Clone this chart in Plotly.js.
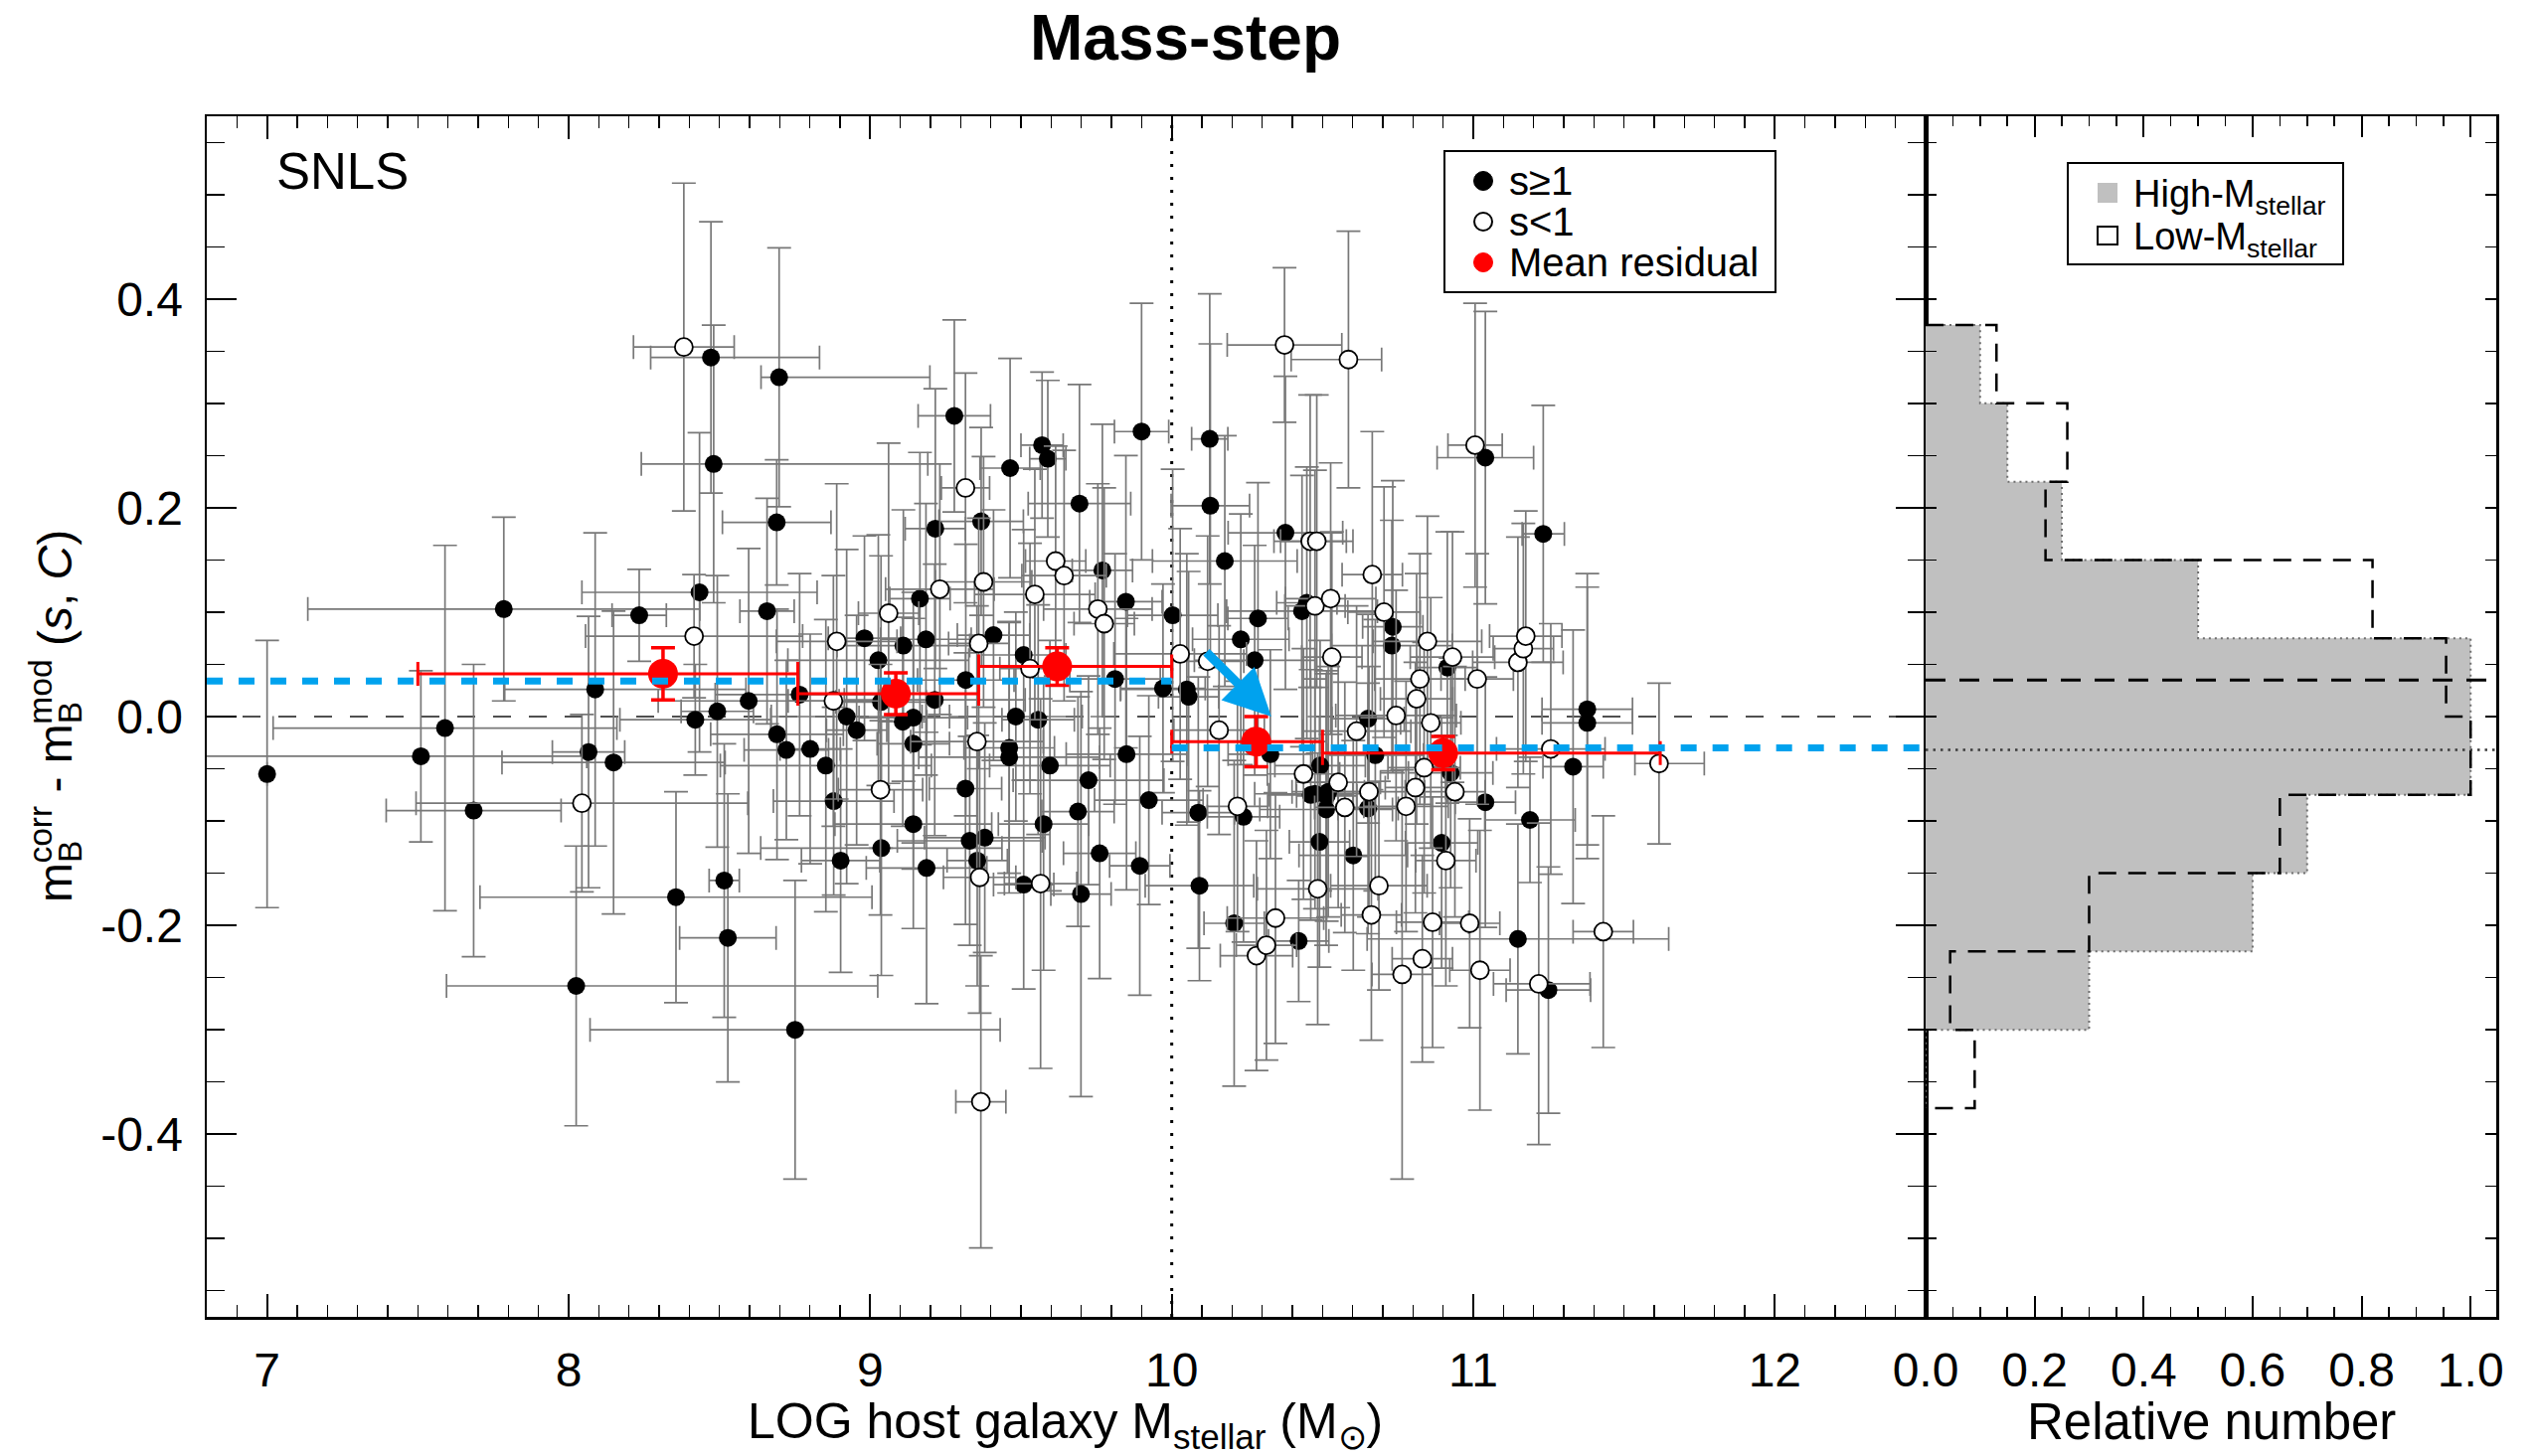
<!DOCTYPE html>
<html><head><meta charset="utf-8">
<script src="https://cdn.plot.ly/plotly-3.0.1.min.js"></script>
<style>html,body{margin:0;padding:0;background:#fff}#chart{width:2552px;height:1465px}</style>
</head><body><div id="chart"></div>
<script>
// ---------------- DATA ----------------
// SNe with stretch s >= 1 (filled)
const sHighX = [7.000,7.510,7.590,7.685,7.785,8.025,8.066,8.088,8.149,8.234,
 8.356,8.420,8.434,8.472,8.481,8.493,8.516,8.528,8.597,8.658,
 8.690,8.691,8.698,8.722,8.751,8.766,8.801,8.853,8.879,8.902,
 8.922,8.955,8.981,9.027,9.036,9.037,9.108,9.110,9.143,9.143,
 9.143,9.165,9.185,9.187,9.214,9.216,9.279,9.317,9.316,9.330,
 9.355,9.368,9.380,9.409,9.461,9.461,9.464,9.483,9.509,9.509,
 9.557,9.570,9.575,9.589,9.596,9.689,9.694,9.699,9.724,9.761,
 9.770,9.812,9.848,9.850,9.894,9.900,9.924,9.971,10.003,10.050,
 10.056,10.088,10.092,10.126,10.128,10.176,10.207,10.229,10.238,10.275,
 10.286,10.327,10.377,10.421,10.432,10.448,10.461,10.475,10.490,10.492,
 10.512,10.514,10.519,10.602,10.651,10.651,10.675,10.730,10.733,10.895,
 10.914,10.925,11.040,11.040,11.148,11.188,11.232,11.249,11.331,11.378,
 11.378];
const sHighY = [-0.055,-0.038,-0.011,-0.090,0.103,-0.258,-0.034,0.026,-0.044,0.097,
 -0.173,-0.003,0.119,0.344,0.242,0.005,-0.157,-0.212,0.015,0.101,
 0.186,-0.017,0.325,-0.032,-0.300,0.021,-0.031,-0.047,-0.081,-0.138,
 0.000,-0.013,0.075,0.054,0.014,-0.126,-0.005,0.068,-0.001,-0.026,
 -0.103,0.113,0.074,-0.145,0.016,0.180,0.288,0.035,-0.069,-0.119,
 -0.138,0.187,-0.116,0.078,-0.030,-0.039,0.238,0.000,0.059,-0.161,
 -0.003,0.260,-0.103,0.247,-0.047,-0.091,0.204,-0.170,-0.061,-0.131,
 0.140,0.036,0.110,-0.036,-0.143,0.273,-0.080,0.027,0.097,0.026,
 0.019,-0.092,-0.162,0.266,0.202,0.149,-0.198,0.074,-0.096,0.054,
 0.094,-0.036,0.176,-0.215,0.101,0.109,-0.075,-0.074,-0.120,-0.047,
 -0.089,-0.076,-0.072,-0.133,-0.002,-0.088,-0.037,0.068,0.086,-0.121,
 0.047,-0.054,0.248,-0.082,-0.213,-0.099,0.175,-0.262,-0.048,0.007,
 -0.006];
const sHighErrY = [0.128,0.082,0.175,0.140,0.088,0.134,0.130,0.150,0.145,0.044,
 0.101,0.053,0.153,0.130,0.133,0.130,0.131,0.138,0.146,0.108,
 0.060,0.120,0.124,0.086,0.143,0.116,0.110,0.140,0.090,0.107,
 0.160,0.110,0.098,0.120,0.140,0.122,0.100,0.130,0.120,0.120,
 0.100,0.140,0.130,0.130,0.130,0.134,0.092,0.130,0.130,0.100,
 0.120,0.090,0.110,0.120,0.120,0.130,0.105,0.100,0.120,0.100,
 0.110,0.070,0.140,0.075,0.120,0.110,0.114,0.194,0.100,0.120,
 0.140,0.120,0.140,0.130,0.124,0.123,0.100,0.100,0.140,0.130,
 0.120,0.130,0.091,0.139,0.155,0.120,0.156,0.120,0.120,0.110,
 0.130,0.100,0.150,0.058,0.130,0.130,0.120,0.110,0.120,0.120,
 0.130,0.120,0.120,0.110,0.100,0.120,0.130,0.120,0.140,0.120,
 0.130,0.110,0.140,0.120,0.110,0.060,0.123,0.118,0.131,0.130,
 0.130];
const sHighErrXPlus = [0.00,0.55,0.57,0.29,0.65,1.00,0.12,0.50,0.37,0.09,
 0.65,0.25,0.39,0.36,0.71,0.12,0.05,0.16,0.30,0.09,
 0.18,0.22,0.50,0.14,0.68,0.28,0.10,0.35,0.20,0.13,
 0.25,0.10,0.12,0.30,0.15,0.40,0.08,0.22,0.18,0.12,
 0.26,0.10,0.15,0.20,0.30,0.10,0.12,0.16,0.12,0.24,
 0.10,0.14,0.20,0.12,0.15,0.30,0.10,0.22,0.14,0.10,
 0.12,0.07,0.15,0.06,0.20,0.12,0.17,0.10,0.25,0.12,
 0.10,0.15,0.12,0.20,0.10,0.09,0.18,0.14,0.15,0.22,
 0.10,0.12,0.18,0.06,0.13,0.24,0.10,0.16,0.12,0.20,
 0.10,0.14,0.19,0.10,0.25,0.10,0.14,0.20,0.10,0.15,
 0.22,0.10,0.12,0.18,0.12,0.10,0.16,0.20,0.10,0.12,
 0.10,0.14,0.16,0.10,0.50,0.15,0.07,0.14,0.10,0.15,
 0.15];
const sHighErrXMinus = [0.00,0.75,0.57,0.29,0.65,0.43,0.12,0.30,0.37,0.09,
 0.65,0.25,0.39,0.20,0.24,0.12,0.05,0.16,0.30,0.09,
 0.18,0.22,0.06,0.14,0.68,0.28,0.10,0.35,0.20,0.13,
 0.25,0.10,0.12,0.30,0.15,0.40,0.08,0.22,0.18,0.12,
 0.26,0.10,0.15,0.20,0.30,0.10,0.12,0.16,0.12,0.24,
 0.10,0.14,0.20,0.12,0.15,0.30,0.10,0.22,0.14,0.10,
 0.12,0.07,0.15,0.06,0.20,0.12,0.17,0.10,0.25,0.12,
 0.10,0.15,0.12,0.20,0.10,0.09,0.18,0.14,0.15,0.22,
 0.10,0.12,0.18,0.06,0.13,0.24,0.10,0.16,0.12,0.20,
 0.10,0.14,0.19,0.10,0.25,0.10,0.14,0.20,0.10,0.15,
 0.22,0.10,0.12,0.18,0.12,0.10,0.16,0.20,0.10,0.12,
 0.10,0.14,0.16,0.10,0.50,0.15,0.07,0.14,0.10,0.15,
 0.15];

// SNe with stretch s < 1 (open)
const sLowX = [8.044,8.382,8.416,8.878,8.889,9.034,9.061,9.231,9.316,9.354,
 9.360,9.363,9.367,9.376,9.530,9.546,9.565,9.615,9.643,9.755,
 9.776,10.028,10.119,10.157,10.218,10.281,10.314,10.344,10.374,10.437,
 10.459,10.481,10.484,10.475,10.527,10.531,10.552,10.574,10.586,10.613,
 10.654,10.662,10.665,10.687,10.704,10.744,10.764,10.777,10.808,10.812,
 10.823,10.831,10.837,10.848,10.859,10.865,10.909,10.931,10.939,10.988,
 11.006,11.013,11.022,11.148,11.166,11.174,11.217,11.257,11.431,11.616];
const sLowY = [-0.083,0.354,0.077,0.015,0.072,-0.070,0.099,0.122,0.219,-0.024,
 0.070,-0.154,-0.369,0.129,0.046,0.117,-0.160,0.149,0.135,0.103,
 0.089,0.060,0.053,-0.013,-0.086,-0.229,-0.219,-0.193,0.356,-0.055,
 0.168,0.168,-0.165,0.106,0.113,0.057,-0.063,-0.087,0.342,-0.014,
 -0.072,-0.190,0.136,-0.162,0.100,0.001,-0.247,-0.086,-0.068,0.017,
 0.036,-0.232,-0.049,0.072,-0.006,-0.197,-0.138,0.057,-0.072,-0.198,
 0.260,0.036,-0.243,0.052,0.065,0.077,-0.256,-0.031,-0.206,-0.045];
const sLowErrY = [0.085,0.157,0.059,0.120,0.151,0.120,0.163,0.120,0.110,0.130,
 0.120,0.130,0.140,0.120,0.120,0.120,0.177,0.110,0.120,0.120,
 0.130,0.120,0.120,0.100,0.120,0.110,0.110,0.120,0.074,0.120,
 0.140,0.140,0.130,0.130,0.130,0.120,0.120,0.120,0.123,0.120,
 0.120,0.120,0.137,0.100,0.120,0.120,0.196,0.120,0.120,0.120,
 0.120,0.099,0.120,0.120,0.120,0.120,0.120,0.120,0.120,0.100,
 0.136,0.120,0.134,0.120,0.120,0.120,0.154,0.120,0.111,0.077];
const sLowErrXPlus = [0.55,0.167,0.36,0.15,0.20,0.14,0.10,0.18,0.08,0.22,
 0.10,0.12,0.083,0.16,0.10,0.20,0.12,0.10,0.14,0.18,
 0.10,0.22,0.12,0.15,0.10,0.12,0.10,0.16,0.19,0.12,
 0.12,0.12,0.20,0.10,0.15,0.10,0.14,0.10,0.11,0.18,
 0.12,0.10,0.10,0.16,0.12,0.20,0.10,0.14,0.10,0.12,
 0.15,0.10,0.12,0.18,0.10,0.12,0.10,0.14,0.10,0.10,
 0.09,0.12,0.10,0.15,0.10,0.12,0.17,0.18,0.10,0.15];
const sLowErrXMinus = [0.55,0.167,0.36,0.15,0.20,0.14,0.10,0.18,0.08,0.22,
 0.10,0.12,0.083,0.16,0.10,0.20,0.12,0.10,0.14,0.18,
 0.10,0.22,0.12,0.15,0.10,0.12,0.10,0.16,0.19,0.12,
 0.12,0.12,0.20,0.10,0.15,0.10,0.14,0.10,0.19,0.18,
 0.12,0.10,0.10,0.16,0.12,0.20,0.10,0.14,0.10,0.12,
 0.15,0.10,0.12,0.18,0.10,0.12,0.10,0.14,0.10,0.10,
 0.09,0.12,0.10,0.15,0.10,0.12,0.15,0.18,0.10,0.08];

// Mean residual per mass bin
const meanX = [8.313, 9.085, 9.620, 10.280, 10.900];
const meanY = [0.041, 0.022, 0.048, -0.024, -0.035];
const meanErrY = [0.025, 0.020, 0.018, 0.024, 0.016];
const meanBinLo = [7.50, 8.76, 9.36, 10.00, 10.50];
const meanBinHi = [8.76, 9.36, 10.00, 10.50, 11.62];

// Mass-step split and mean residuals on each side
const massSplit = 10.0;
const lowMassMean = 0.034;
const highMassMean = -0.030;
const arrowTail = [10.11, 0.063];
const arrowTip = [10.33, 0.000];

// Histograms (right panel)
const histEdges = [0.375, 0.300, 0.225, 0.150, 0.075, 0.000, -0.075, -0.150, -0.225, -0.300, -0.375];
const histHighM = [0.10, 0.15, 0.25, 0.50, 1.00, 1.00, 0.70, 0.60, 0.30, 0.00];
const histLowM  = [0.13, 0.26, 0.22, 0.82, 0.955, 1.00, 0.65, 0.30, 0.045, 0.09];
const histMeanLow = 0.035;
const histMeanHigh = -0.032;

// Axes
const xRange = [6.8, 12.5];
const yRange = [-0.575, 0.575];
const x2Range = [0, 1.047];
const yTickVals = [-0.4, -0.2, 0.0, 0.2, 0.4];
const yTickText = ['-0.4', '-0.2', '0.0', '0.2', '0.4'];
const x2TickVals = [0, 0.2, 0.4, 0.6, 0.8, 1.0];
const x2TickText = ['0.0', '0.2', '0.4', '0.6', '0.8', '1.0'];

// ---------------- LAYOUT GEOMETRY ----------------
const W = 2552, H = 1465;
const L = 208, R = 1937, R2 = 2511, T = 117, B = 1325;
const px = v => v / W;
const py = v => 1 - v / H;
const FONT = 'Liberation Sans, Arial, Helvetica, sans-serif';
const BLUE = '#00A2EE';
const ERRC = 'rgb(120,120,120)';

function stepPath(edges, vals) {
  const xs = [0], ys = [edges[0]];
  for (let i = 0; i < vals.length; i++) {
    xs.push(vals[i], vals[i]);
    ys.push(edges[i], edges[i + 1]);
  }
  xs.push(0); ys.push(edges[edges.length - 1]);
  return {x: xs, y: ys};
}
const highPath = stepPath(histEdges, histHighM);
const lowPath = stepPath(histEdges, histLowM);

const traces = [];
traces.push({
  type: 'scatter', mode: 'markers', x: sHighX, y: sHighY, xaxis: 'x', yaxis: 'y',
  marker: {symbol: 'circle', size: 18, color: 'black', line: {width: 0}},
  error_x: {type: 'data', symmetric: false, array: sHighErrXPlus, arrayminus: sHighErrXMinus, color: ERRC, thickness: 1.7, width: 12},
  error_y: {type: 'data', array: sHighErrY, color: ERRC, thickness: 1.7, width: 12},
  showlegend: false, hoverinfo: 'skip'
});
traces.push({
  type: 'scatter', mode: 'markers', x: sLowX, y: sLowY, xaxis: 'x', yaxis: 'y',
  marker: {symbol: 'circle', size: 18, color: 'white', line: {width: 1.8, color: 'black'}},
  error_x: {type: 'data', symmetric: false, array: sLowErrXPlus, arrayminus: sLowErrXMinus, color: ERRC, thickness: 1.7, width: 12},
  error_y: {type: 'data', array: sLowErrY, color: ERRC, thickness: 1.7, width: 12},
  showlegend: false, hoverinfo: 'skip'
});
traces.push({
  type: 'scatter', mode: 'markers', x: meanX, y: meanY, xaxis: 'x', yaxis: 'y',
  marker: {symbol: 'circle', size: 30, color: 'red', line: {width: 0}},
  error_x: {type: 'data', symmetric: false,
    array: meanX.map((v, i) => meanBinHi[i] - v),
    arrayminus: meanX.map((v, i) => v - meanBinLo[i]),
    color: 'red', thickness: 3, width: 12},
  error_y: {type: 'data', array: meanErrY, color: 'red', thickness: 3.5, width: 12},
  showlegend: false, hoverinfo: 'skip'
});
traces.push({
  type: 'scatter', mode: 'lines', x: [xRange[0], massSplit], y: [lowMassMean, lowMassMean],
  xaxis: 'x', yaxis: 'y', line: {color: BLUE, width: 7, dash: '16px,16px'}, showlegend: false, hoverinfo: 'skip'
});
traces.push({
  type: 'scatter', mode: 'lines', x: [massSplit, xRange[1]], y: [highMassMean, highMassMean],
  xaxis: 'x', yaxis: 'y', line: {color: BLUE, width: 7, dash: '16px,16px'}, showlegend: false, hoverinfo: 'skip'
});
// histograms
traces.push({
  type: 'scatter', mode: 'lines', x: highPath.x, y: highPath.y, xaxis: 'x2', yaxis: 'y2',
  fill: 'toself', fillcolor: 'rgb(192,192,192)', line: {color: 'rgb(110,110,110)', width: 2, dash: '2px,4px'},
  showlegend: false, hoverinfo: 'skip'
});
traces.push({
  type: 'scatter', mode: 'lines', x: lowPath.x, y: lowPath.y, xaxis: 'x2', yaxis: 'y2',
  line: {color: 'black', width: 2.5, dash: '18px,12px'}, showlegend: false, hoverinfo: 'skip'
});
traces.push({
  type: 'scatter', mode: 'lines', x: [x2Range[0], x2Range[1]], y: [histMeanLow, histMeanLow], xaxis: 'x2', yaxis: 'y2',
  line: {color: 'black', width: 3, dash: '20px,14px'}, showlegend: false, hoverinfo: 'skip'
});
traces.push({
  type: 'scatter', mode: 'lines', x: [x2Range[0], x2Range[1]], y: [histMeanHigh, histMeanHigh], xaxis: 'x2', yaxis: 'y2',
  line: {color: 'rgb(60,60,60)', width: 2.5, dash: '2.5px,5px'}, showlegend: false, hoverinfo: 'skip'
});

const axCommon = {
  showline: true, linecolor: 'black', linewidth: 2.5, mirror: 'ticks',
  ticks: 'inside', tickcolor: 'black', showgrid: false, zeroline: false,
  tickfont: {family: FONT, size: 48, color: 'black'}
};
const yDom = [1 - B / H, 1 - T / H];

const layout = {
  width: W, height: H, autosize: false,
  margin: {l: 0, r: 0, t: 0, b: 0, pad: 0},
  paper_bgcolor: 'white', plot_bgcolor: 'white',
  showlegend: false,
  xaxis: Object.assign({}, axCommon, {
    domain: [px(L), px(R)], range: xRange, anchor: 'y',
    tickmode: 'linear', tick0: 0, dtick: 1, ticklen: 23, tickwidth: 2,
    minor: {dtick: 0.1, tick0: 0, ticklen: 12, tickwidth: 1.5, tickcolor: 'black', ticks: 'inside', showgrid: false},
    ticklabelstandoff: 10
  }),
  yaxis: Object.assign({}, axCommon, {
    domain: yDom, range: yRange, anchor: 'x',
    tickmode: 'array', tickvals: yTickVals, ticktext: yTickText, ticklen: 30, tickwidth: 2,
    minor: {dtick: 0.05, tick0: 0, ticklen: 18, tickwidth: 1.5, tickcolor: 'black', ticks: 'inside', showgrid: false},
    ticklabelstandoff: 12
  }),
  xaxis2: Object.assign({}, axCommon, {
    domain: [px(R), px(R2)], range: x2Range, anchor: 'y2',
    tickmode: 'array', tickvals: x2TickVals, ticktext: x2TickText, ticklen: 21, tickwidth: 2,
    minor: {dtick: 0.05, tick0: 0, ticklen: 10, tickwidth: 1.5, tickcolor: 'black', ticks: 'inside', showgrid: false},
    ticklabelstandoff: 10
  }),
  yaxis2: Object.assign({}, axCommon, {
    domain: yDom, range: yRange, anchor: 'x2', showticklabels: false,
    tickmode: 'linear', tick0: 0, dtick: 0.05, ticklen: 11, tickwidth: 1.5
  }),
  shapes: [
    {type: 'line', xref: 'x domain', yref: 'y', x0: 0, x1: 1, y0: 0, y1: 0, layer: 'below',
     line: {color: 'rgb(80,80,80)', width: 2, dash: '18px,18px'}},
    {type: 'line', xref: 'x', yref: 'y domain', x0: massSplit, x1: massSplit, y0: 0, y1: 1, layer: 'below',
     line: {color: 'black', width: 3, dash: '3px,10px'}},
    {type: 'rect', xref: 'paper', yref: 'paper', x0: px(1453), x1: px(1786), y0: py(152), y1: py(294),
     line: {color: 'black', width: 2}, fillcolor: 'white', layer: 'above'},
    {type: 'circle', xref: 'paper', yref: 'paper', xsizemode: 'pixel', ysizemode: 'pixel',
     xanchor: px(1492), yanchor: py(182), x0: -9.5, x1: 9.5, y0: -9.5, y1: 9.5,
     fillcolor: 'black', line: {color: 'black', width: 1}, layer: 'above'},
    {type: 'circle', xref: 'paper', yref: 'paper', xsizemode: 'pixel', ysizemode: 'pixel',
     xanchor: px(1492), yanchor: py(223), x0: -9, x1: 9, y0: -9, y1: 9,
     fillcolor: 'white', line: {color: 'black', width: 2}, layer: 'above'},
    {type: 'circle', xref: 'paper', yref: 'paper', xsizemode: 'pixel', ysizemode: 'pixel',
     xanchor: px(1492), yanchor: py(264), x0: -9.5, x1: 9.5, y0: -9.5, y1: 9.5,
     fillcolor: 'red', line: {color: 'red', width: 1}, layer: 'above'},
    {type: 'rect', xref: 'paper', yref: 'paper', x0: px(2080), x1: px(2357), y0: py(164), y1: py(266),
     line: {color: 'black', width: 2}, fillcolor: 'white', layer: 'above'},
    {type: 'rect', xref: 'paper', yref: 'paper', xsizemode: 'pixel', ysizemode: 'pixel',
     xanchor: px(2120), yanchor: py(194), x0: -10, x1: 10, y0: -10, y1: 10,
     fillcolor: 'rgb(192,192,192)', line: {width: 0}, layer: 'above'},
    {type: 'rect', xref: 'paper', yref: 'paper', xsizemode: 'pixel', ysizemode: 'pixel',
     xanchor: px(2120), yanchor: py(237), x0: -10, x1: 10, y0: -9, y1: 9,
     fillcolor: 'white', line: {color: 'black', width: 2}, layer: 'above'}
  ],
  annotations: [
    {text: '<b>Mass-step</b>', xref: 'paper', yref: 'paper', x: px(1192), y: py(38),
     xanchor: 'center', yanchor: 'middle', showarrow: false, font: {family: FONT, size: 64, color: 'black'}},
    {text: 'SNLS', xref: 'paper', yref: 'paper', x: px(276), y: py(172),
     xanchor: 'left', yanchor: 'middle', showarrow: false, font: {family: FONT, size: 51, color: 'black'}},
    {text: 'm<sub><span style="letter-spacing:-23px">B</span></sub><sup>corr</sup> - m<sub><span style="letter-spacing:-23px">B</span></sub><sup>mod</sup> (<i>s</i>, <i>C</i>)',
     xref: 'paper', yref: 'paper', x: px(52), y: py(721), textangle: -90,
     xanchor: 'center', yanchor: 'middle', showarrow: false, font: {family: FONT, size: 48, color: 'black'}},
    {text: 'LOG host galaxy M<sub>stellar</sub> (M<sub>⊙</sub>)', xref: 'paper', yref: 'paper',
     x: px(1071), y: py(1433), xanchor: 'center', yanchor: 'middle', showarrow: false,
     font: {family: FONT, size: 50, color: 'black'}},
    {text: 'Relative number', xref: 'paper', yref: 'paper', x: px(2224), y: py(1430),
     xanchor: 'center', yanchor: 'middle', showarrow: false, font: {family: FONT, size: 51, color: 'black'}},
    {text: 's≥1', xref: 'paper', yref: 'paper', x: px(1516), y: py(182), xanchor: 'left', yanchor: 'middle',
     showarrow: false, font: {family: FONT, size: 40, color: 'black'}},
    {text: 's<1', xref: 'paper', yref: 'paper', x: px(1516), y: py(223), xanchor: 'left', yanchor: 'middle',
     showarrow: false, font: {family: FONT, size: 40, color: 'black'}},
    {text: 'Mean residual', xref: 'paper', yref: 'paper', x: px(1516), y: py(264), xanchor: 'left', yanchor: 'middle',
     showarrow: false, font: {family: FONT, size: 40, color: 'black'}},
    {text: 'High-M<sub>stellar</sub>', xref: 'paper', yref: 'paper', x: px(2144), y: py(198), xanchor: 'left', yanchor: 'middle',
     showarrow: false, font: {family: FONT, size: 38, color: 'black'}},
    {text: 'Low-M<sub>stellar</sub>', xref: 'paper', yref: 'paper', x: px(2144), y: py(241), xanchor: 'left', yanchor: 'middle',
     showarrow: false, font: {family: FONT, size: 38, color: 'black'}},
    {text: '', xref: 'x', yref: 'y', axref: 'x', ayref: 'y', x: arrowTip[0], y: arrowTip[1],
     ax: arrowTail[0], ay: arrowTail[1], showarrow: true, arrowhead: 2, arrowsize: 1.05, arrowwidth: 9,
     arrowcolor: BLUE, standoff: 0}
  ]
};

Plotly.newPlot('chart', traces, layout, {staticPlot: true, displayModeBar: false});
</script></body></html>
